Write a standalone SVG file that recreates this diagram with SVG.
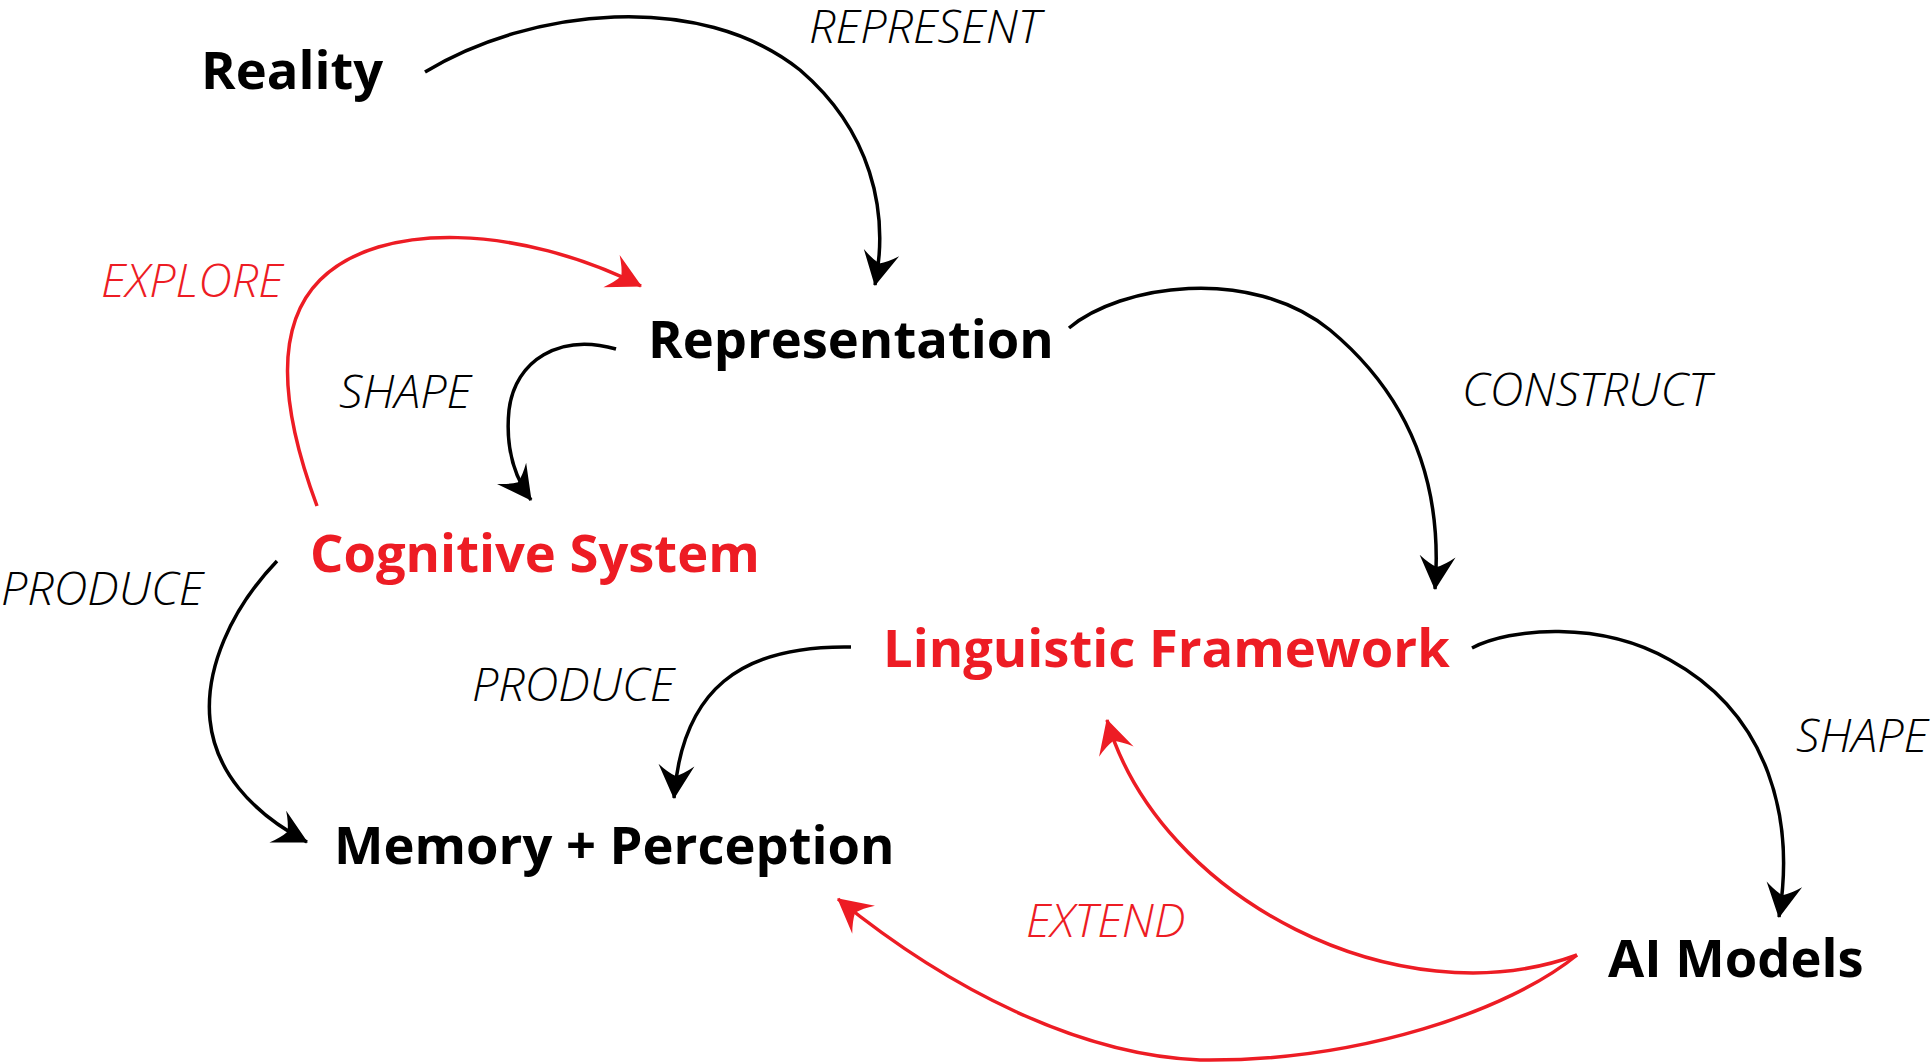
<svg xmlns="http://www.w3.org/2000/svg" width="1932" height="1063" viewBox="0 0 1932 1063">
<defs>
<style>
.node{font-family:"Open Sans","Noto Sans","Liberation Sans",sans-serif;font-weight:700;font-size:52.5px;}
.lbl{font-family:"Open Sans","Noto Sans","Liberation Sans",sans-serif;font-weight:300;font-style:italic;font-size:46.8px;}
.blk{fill:#000;}
.red{fill:#ED1C24;}
.ck{fill:none;stroke:#000;stroke-width:3.5;}
.cr{fill:none;stroke:#ED1C24;stroke-width:3.5;}
</style>
<marker id="ab" markerUnits="userSpaceOnUse" orient="auto" markerWidth="50" markerHeight="44" refX="0" refY="0" viewBox="-40 -22 50 44" overflow="visible">
<path d="M1,0 L-33,-18 Q-25,-8 -22,0 Q-25,8 -33,18 Z" fill="#000"/>
</marker>
<marker id="ar" markerUnits="userSpaceOnUse" orient="auto" markerWidth="50" markerHeight="44" refX="0" refY="0" viewBox="-40 -22 50 44" overflow="visible">
<path d="M1,0 L-33,-18 Q-25,-8 -22,0 Q-25,8 -33,18 Z" fill="#ED1C24"/>
</marker>
</defs>
<rect width="1932" height="1063" fill="#fff"/>
<g id="connectors">
<path class="ck" d="M425,72 C530,8 700,-10 800,70 C870,130 890,210 875,285" marker-end="url(#ab)"/>
<path class="ck" d="M1069,328 C1120,285 1250,265 1330,330 C1420,405 1442,500 1435,589" marker-end="url(#ab)"/>
<path class="ck" d="M616,349 C560,333 515,360 509,410 C505,450 515,478 531,500" marker-end="url(#ab)"/>
<path class="cr" d="M317,506 C285,420 270,330 320,280 C380,220 520,225 641,286" marker-end="url(#ar)"/>
<path class="ck" d="M277,561 C230,610 205,670 210,720 C215,770 250,812 307,842" marker-end="url(#ab)"/>
<path class="ck" d="M851,647 C740,645 682,690 674,798" marker-end="url(#ab)"/>
<path class="ck" d="M1472,648 C1510,628 1600,620 1670,660 C1770,715 1795,820 1779,917" marker-end="url(#ab)"/>
<path class="cr" d="M1577,955 C1400,1020 1160,900 1107,720" marker-end="url(#ar)"/>
<path class="cr" d="M1577,955 C1510,1010 1360,1062 1200,1060 C1080,1055 950,990 838,899" marker-end="url(#ar)"/>
</g>
<g id="labels">
<text class="lbl blk" x="809" y="43">REPRESENT</text>
<text class="lbl red" x="101" y="297">EXPLORE</text>
<text class="lbl blk" x="339" y="408">SHAPE</text>
<text class="lbl blk" x="1462" y="406">CONSTRUCT</text>
<text class="lbl blk" x="1" y="605">PRODUCE</text>
<text class="lbl blk" x="472" y="701">PRODUCE</text>
<text class="lbl blk" x="1796" y="752">SHAPE</text>
<text class="lbl red" x="1026" y="937">EXTEND</text>
</g>
<g id="reality"><text class="node blk" x="201" y="89">Reality</text></g>
<g id="representation"><text class="node blk" x="648" y="358">Representation</text></g>
<g id="cognitive-system"><text class="node red" x="310" y="572">Cognitive System</text></g>
<g id="linguistic-framework"><text class="node red" x="883" y="667">Linguistic Framework</text></g>
<g id="memory-perception"><text class="node blk" x="334" y="864">Memory + Perception</text></g>
<g id="ai-models"><text class="node blk" x="1608" y="977">AI Models</text></g>
</svg>
